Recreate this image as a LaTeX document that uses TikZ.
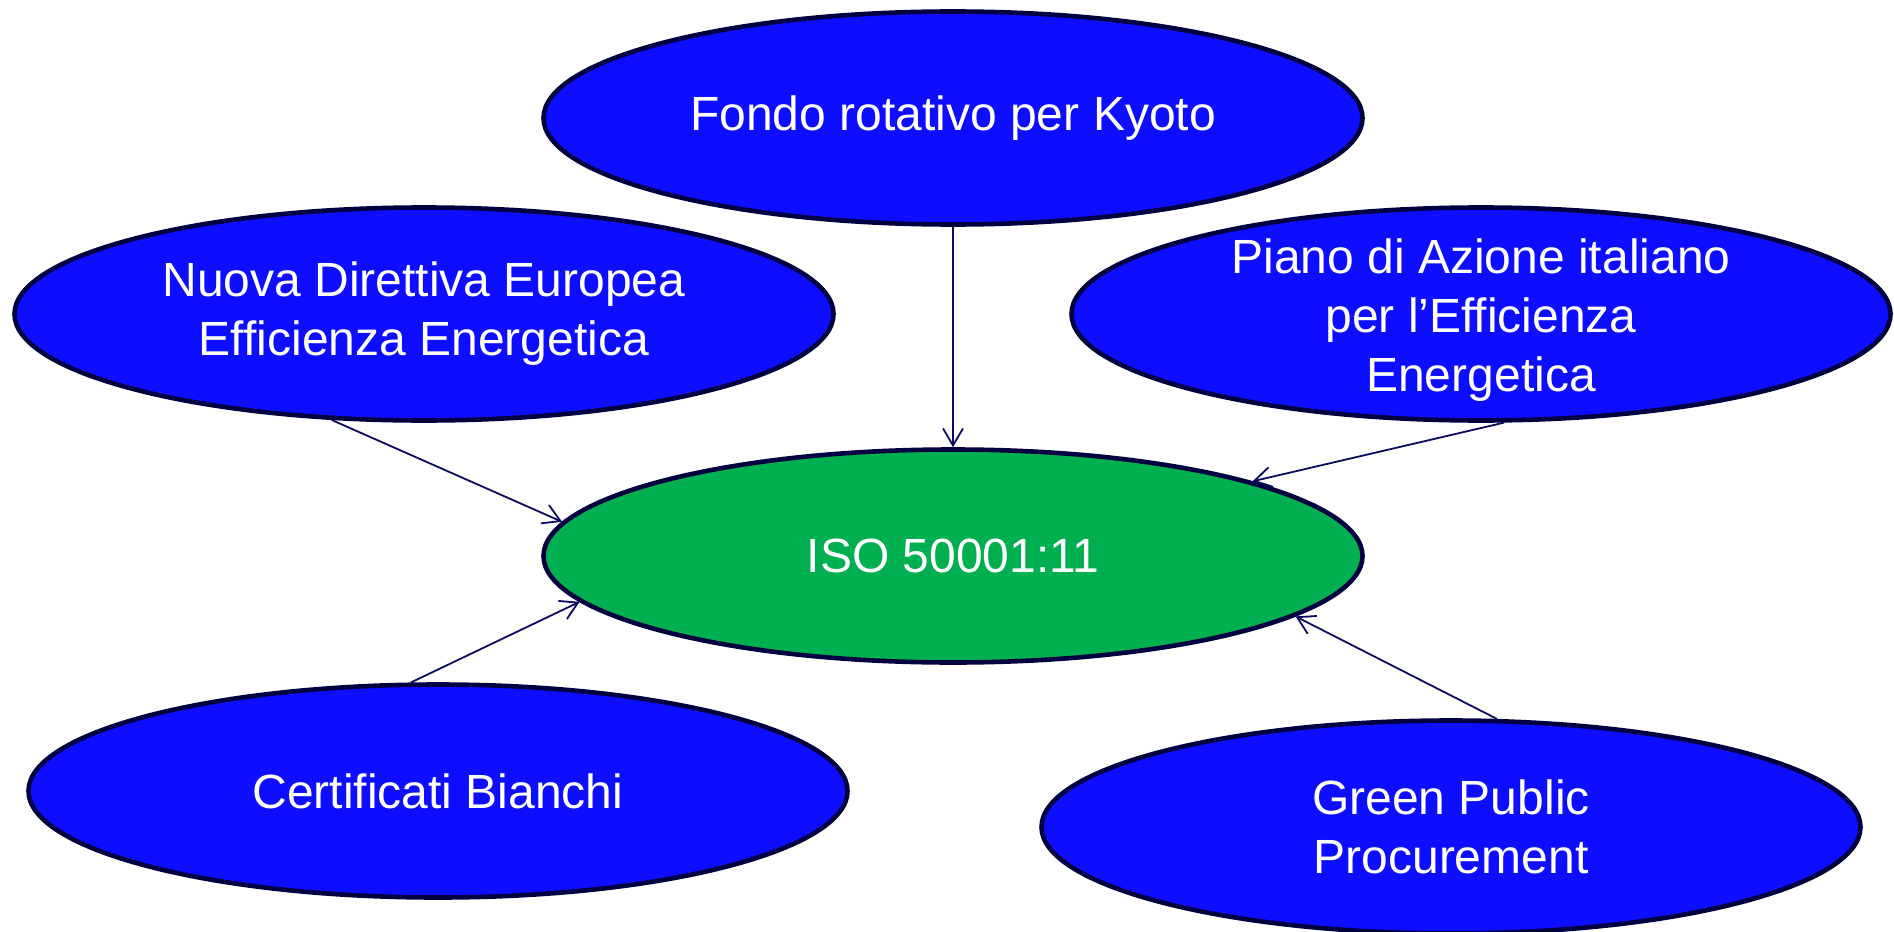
\documentclass[tikz,border=0pt]{standalone}
\usepackage{fontspec}
\setmainfont{Liberation Sans}
\usetikzlibrary{shapes.geometric,arrows.meta}
\definecolor{fillblue}{HTML}{0D0DFF}
\definecolor{fillgreen}{HTML}{00AF50}
\definecolor{outline}{HTML}{000040}
\definecolor{conn}{HTML}{0A0A60}
\tikzset{
  bubble/.style={ellipse, draw=outline, line width=2.3pt, fill=fillblue,
    minimum width=409.5pt, minimum height=106.5pt, inner sep=0pt,
    text=white, align=center, font=\fontsize{24}{29.5}\selectfont},
  hub/.style={bubble, fill=fillgreen},
  link/.style={draw=conn, line width=0.9pt, -{Straight Barb[length=8.5pt,width=10pt]}}
}
\begin{document}
\begin{tikzpicture}[x=0.5pt,y=-0.5pt]
\useasboundingbox (0,0) rectangle (1894,931);
\node[bubble] (K) at (953,118) {Fondo rotativo per Kyoto};
\node[bubble] (N) at (424,314) {Nuova Direttiva Europea\\Efficienza Energetica};
\node[bubble, inner ysep=-9pt] (P) at (1481,314) {\rule{0pt}{23pt}Piano di Azione italiano\\per l’Efficienza\\Energetica};
\node[hub] (I) at (953,556) {ISO 50001:11};
\node[bubble] (C) at (438,791) {Certificati Bianchi};
\node[bubble] (G) at (1451,827) {Green Public\\Procurement};
\draw[link] (K.south) -- (I.north);
\draw[link] (N.-131) -- (I.175);
\draw[link] (P.-78) -- (I.14);
\draw[link] (C.104) -- (I.-173);
\draw[link] (G.67) -- (I.-10);
\end{tikzpicture}
\end{document}
